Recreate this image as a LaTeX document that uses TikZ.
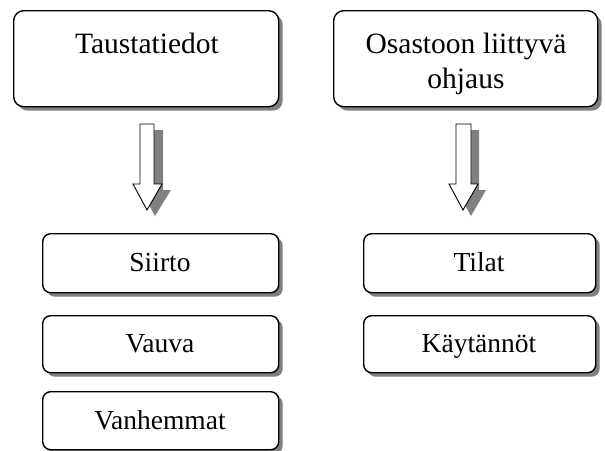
\documentclass[tikz,border=0pt]{standalone}
\usepackage{fontspec}
\setmainfont{Liberation Serif}
\usetikzlibrary{shadows}
\begin{document}
\begin{tikzpicture}[x=1pt,y=-1pt,
  shadowbox/.style={draw=black, line width=1.4pt, fill=white, rounded corners=10pt,
    drop shadow={shadow xshift=4pt, shadow yshift=-4pt, fill=black!50, opacity=1},
    inner sep=0pt, anchor=north west},
  bigtxt/.style={font=\fontsize{29.5}{35}\selectfont, anchor=base, inner sep=0pt, align=center},
  smalltxt/.style={font=\fontsize{27.5}{32}\selectfont, anchor=base, inner sep=0pt},
  blockarrow/.style={draw=black, line width=0.9pt, fill=white, line join=miter},
  arrowshadow/.style={fill=black!50, draw=none}]
\useasboundingbox (0,0) rectangle (605,450);
% top boxes
\node[shadowbox, minimum width=265pt, minimum height=96pt] (bg) at (13,10) {};
\node[shadowbox, minimum width=264pt, minimum height=96pt] (ohj) at (333,10) {};
\node[bigtxt] (bgt) at (147,53) {Taustatiedot};
\node[bigtxt] (ohjt1) at (466,53) {Osastoon liittyvä};
\node[bigtxt] (ohjt2) at (466,88) {ohjaus};
% lower boxes
\tikzset{lowbox/.style={shadowbox, rounded corners=8pt}}
\node[lowbox, minimum width=236pt, minimum height=59pt] (siirto) at (42,233) {};
\node[lowbox, minimum width=236pt, minimum height=57pt] (vauva) at (42,315) {};
\node[lowbox, minimum width=236pt, minimum height=58pt] (vanh) at (42,391) {};
\node[lowbox, minimum width=232pt, minimum height=59pt] (tilat) at (363,233) {};
\node[lowbox, minimum width=232pt, minimum height=57pt] (kayt) at (363,315) {};
\node[smalltxt] (siirtot) at (160,271) {Siirto};
\node[smalltxt] (vauvat) at (160,352) {Vauva};
\node[smalltxt] (vanht) at (160,429) {Vanhemmat};
\node[smalltxt] (tilatt) at (479,271) {Tilat};
\node[smalltxt] (kaytt) at (479,352) {Käytännöt};
% block arrows (left)
\fill[arrowshadow] (149,130) -- (163,130) -- (163,190) -- (171,190) -- (155,216) -- (141,190) -- (149,190) -- cycle;
\draw[blockarrow] (140,124) -- (154,124) -- (154,184) -- (162,184) -- (147,210) -- (133,184) -- (140,184) -- cycle;
% block arrows (right)
\fill[arrowshadow] (465,130) -- (479,130) -- (479,190) -- (486,190) -- (471,216) -- (457,190) -- (465,190) -- cycle;
\draw[blockarrow] (456,124) -- (471,124) -- (471,184) -- (478,184) -- (463,210) -- (449,184) -- (456,184) -- cycle;
\end{tikzpicture}
\end{document}
